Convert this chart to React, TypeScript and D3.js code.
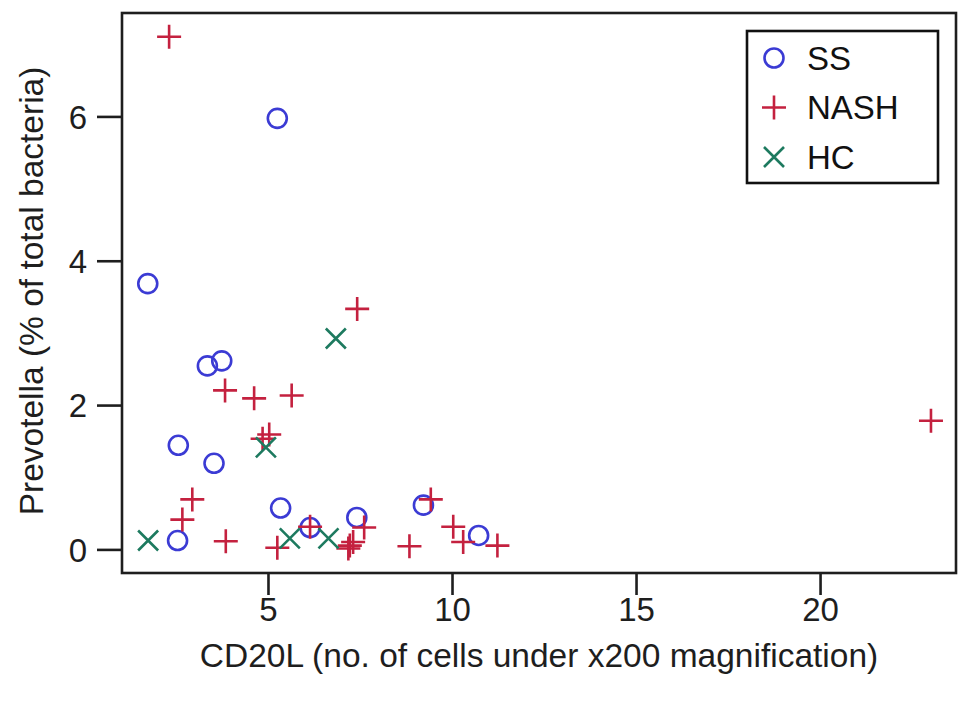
import React from 'react';
import * as d3 from 'd3';

// CD20L (cells under x200) vs Prevotella (% of total bacteria)
const ssX = [5.24, 1.72, 3.34, 3.73, 2.55, 3.52, 5.33, 6.13, 7.40, 9.21, 10.71, 2.53];
const ssY = [5.98, 3.69, 2.55, 2.62, 1.45, 1.20, 0.58, 0.31, 0.45, 0.62, 0.20, 0.13];

const nashX = [2.30, 7.41, 3.82, 4.61, 5.63, 4.84, 5.02, 23.0, 2.93, 2.66, 3.84, 5.24, 6.13, 7.21, 7.30, 7.17, 7.60, 9.41, 8.83, 10.02, 10.29, 11.22];
const nashY = [7.11, 3.34, 2.21, 2.10, 2.14, 1.54, 1.60, 1.79, 0.70, 0.42, 0.12, 0.03, 0.32, 0.06, 0.11, 0.02, 0.31, 0.70, 0.05, 0.32, 0.11, 0.06];

const hcX = [1.73, 6.83, 4.93, 5.58, 6.63];
const hcY = [0.13, 2.93, 1.42, 0.16, 0.16];

const xTicks = [5, 10, 15, 20];
const yTicks = [0, 2, 4, 6];

const groups = ['SS', 'NASH', 'HC'];

const W = 969;
const H = 707;
const left = 122;
const right = 956;
const top = 13;
const bottom = 573;

const BLUE = '#3b3bd4';
const RED = '#c4213f';
const GREEN = '#1d7a5f';
const INK = '#1e1e1e';
const font = '"Liberation Sans", Arial, Helvetica, sans-serif';

const Circle = ({ x, y }: { x: number; y: number }) => (
  <circle cx={x} cy={y} r={9.5} fill="none" stroke={BLUE} strokeWidth={2.6} />
);

const Plus = ({ x, y }: { x: number; y: number }) => (
  <path d={`M${x - 12},${y}H${x + 12}M${x},${y - 12}V${y + 12}`} stroke={RED} strokeWidth={2.6} />
);

const Cross = ({ x, y }: { x: number; y: number }) => (
  <path
    d={`M${x - 10},${y - 10}L${x + 10},${y + 10}M${x - 10},${y + 10}L${x + 10},${y - 10}`}
    stroke={GREEN}
    strokeWidth={2.6}
  />
);

const App: React.FC = () => {
  const x = d3.scaleLinear().domain([1.02, 23.68]).range([left, right]);
  const y = d3.scaleLinear().domain([-0.32, 7.44]).range([bottom, top]);

  const legendX = 747;
  const legendY = 31;
  const markers = [Circle, Plus, Cross];

  return (
    <svg
      width={W}
      height={H}
      viewBox={`0 0 ${W} ${H}`}
      style={{ position: 'absolute', left: 0, top: 0, background: '#fff' }}
      fontFamily={font}
    >
      <rect x={0} y={0} width={W} height={H} fill="#fff" />

      {/* markers */}
      {ssX.map((d, i) => (
        <Circle key={`ss${i}`} x={x(d)} y={y(ssY[i])} />
      ))}
      {nashX.map((d, i) => (
        <Plus key={`n${i}`} x={x(d)} y={y(nashY[i])} />
      ))}
      {hcX.map((d, i) => (
        <Cross key={`h${i}`} x={x(d)} y={y(hcY[i])} />
      ))}

      {/* frame */}
      <rect x={left} y={top} width={right - left} height={bottom - top} fill="none" stroke={INK} strokeWidth={2.6} />

      {/* x axis */}
      {xTicks.map(t => (
        <g key={`xt${t}`}>
          <line x1={x(t)} x2={x(t)} y1={bottom} y2={bottom + 22} stroke={INK} strokeWidth={2.6} />
          <text x={x(t)} y={621} textAnchor="middle" fontSize={33} fill={INK}>
            {t}
          </text>
        </g>
      ))}
      <text x={(left + right) / 2} y={667} textAnchor="middle" fontSize={33.5} fill={INK}>
        CD20L (no. of cells under x200 magnification)
      </text>

      {/* y axis */}
      {yTicks.map(t => (
        <g key={`yt${t}`}>
          <line x1={left - 25} x2={left} y1={y(t)} y2={y(t)} stroke={INK} strokeWidth={2.6} />
          <text x={left - 35} y={y(t)} dy="0.36em" textAnchor="end" fontSize={33} fill={INK}>
            {t}
          </text>
        </g>
      ))}
      <text
        transform={`translate(43, ${(top + bottom) / 2 - 2}) rotate(-90)`}
        textAnchor="middle"
        fontSize={33.5}
        fill={INK}
      >
        Prevotella (% of total bacteria)
      </text>

      {/* legend */}
      <rect x={legendX} y={legendY} width={191} height={152} fill="#fff" stroke="#111" strokeWidth={2.6} />
      {groups.map((g, i) => {
        const M = markers[i];
        const cy = legendY + 27 + i * 49.5;
        return (
          <g key={g}>
            <M x={legendX + 27} y={cy} />
            <text x={legendX + 60} y={cy} dy="0.36em" fontSize={33} fill="#111">
              {g}
            </text>
          </g>
        );
      })}
    </svg>
  );
};

export default App;
